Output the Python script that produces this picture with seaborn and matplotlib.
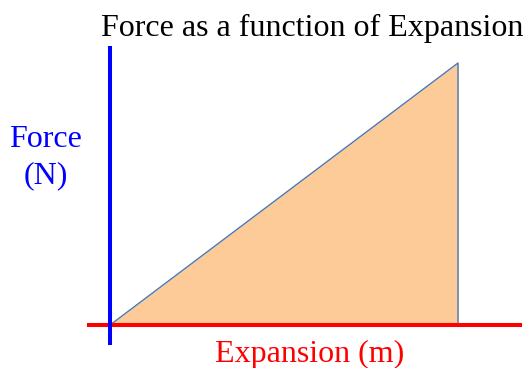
import matplotlib
matplotlib.use("Agg")
import matplotlib.pyplot as plt
import seaborn as sns

# data: linear force vs expansion (no tick values in the picture, so unitless)
expansion = [0.0, 4.0]
force = [0.0, 3.0]

title = "Force as a function of Expansion"
x_label = "Expansion (m)"
y_label = "Force\n(N)"

sns.set_style("white")
plt.rcParams['font.family'] = ['Liberation Serif', 'DejaVu Serif']

W, H = 530, 368
fig = plt.figure(figsize=(W / 100, H / 100), dpi=100)

# axes box in pixels: x from 89 to 520, y from 48 to 343 (top down)
ax = fig.add_axes([89 / W, (H - 343) / H, (520 - 89) / W, (343 - 48) / H])

xmax, ymax = max(expansion), max(force)
sx = (458 - 110) / xmax
sy = (325 - 63) / ymax
ax.set_xlim(-(110 - 89) / sx, xmax + (520 - 458) / sx)
ax.set_ylim(-(343 - 325) / sy, ymax + (63 - 48) / sy)

# shaded area under the line (work done)
ax.fill_between(expansion, force, color="#FDCB97", linewidth=0, zorder=1)
tri_x = expansion + [expansion[-1], expansion[0]]
tri_y = force + [force[0], force[0]]
sns.lineplot(x=tri_x, y=tri_y, ax=ax, sort=False, estimator=None,
             color="#4A77B4", linewidth=1.0, zorder=2)

sns.despine(ax=ax)
ax.spines["left"].set_position(("data", 0))
ax.spines["bottom"].set_position(("data", 0))
ax.spines["left"].set_color("#0000FF")
ax.spines["left"].set_linewidth(2.9)
ax.spines["bottom"].set_color("#FF0000")
ax.spines["bottom"].set_linewidth(2.9)
ax.spines["bottom"].set_zorder(3)
ax.spines["left"].set_zorder(4)
ax.set_xticks([])
ax.set_yticks([])
ax.set_xlabel("")
ax.set_ylabel("")
ax.patch.set_alpha(0)

fs = 23
fig.text(312 / W, (H - 36) / H, title, ha="center", va="baseline", fontsize=fs, color="black")
fig.text(310 / W, (H - 362) / H, x_label, ha="center", va="baseline", fontsize=fs, color="#FF0000")
fig.text(46 / W, (H - 183) / H, y_label, ha="center", va="baseline", fontsize=fs,
         color="#0000FF", linespacing=1.3, multialignment="center")

fig.savefig("out.png", dpi=100)
